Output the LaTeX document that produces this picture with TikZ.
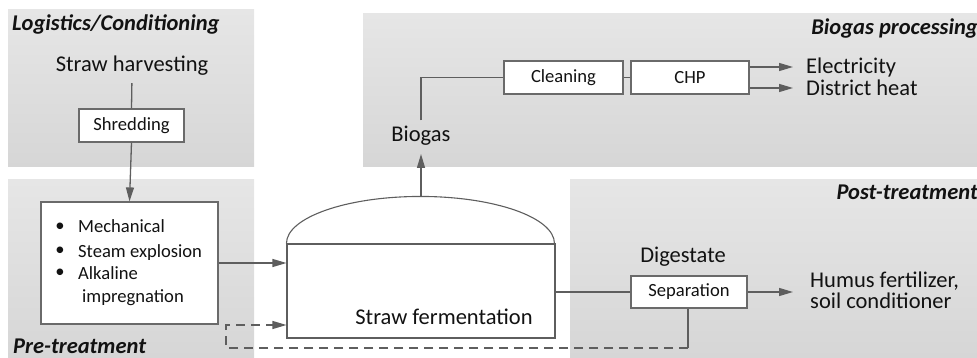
\documentclass[tikz,border=0pt]{standalone}
\usepackage{fontspec}
\setmainfont{Carlito}
\usetikzlibrary{arrows.meta}

\definecolor{lineC}{HTML}{5E5E5E}
\definecolor{boxC}{HTML}{6A6A6A}
\definecolor{txt}{HTML}{121212}
\definecolor{panelTop}{HTML}{E6E6E6}
\definecolor{panelBot}{HTML}{D6D6D6}

\tikzset{
  panel/.style={top color=panelTop, bottom color=panelBot, draw=none},
  box/.style={draw=boxC, fill=white, line width=1.2pt, inner sep=0pt,
              text=txt, font=\fontsize{18.6}{20}\selectfont},
  vessel/.style={draw=lineC, fill=white, line width=1.1pt, inner sep=0pt},
  flow/.style={draw=lineC, line width=1.3pt},
  arr/.style={flow, -{Triangle[length=14pt,width=8pt]}},
  dashflow/.style={arr, dash pattern=on 9pt off 6pt},
  mainT/.style={inner sep=0pt, text=txt, font=\fontsize{22.5}{24}\selectfont},
  smallT/.style={inner sep=0pt, text=txt, font=\fontsize{18.6}{20}\selectfont},
  head/.style={inner sep=0pt, text=txt, font=\fontsize{22.5}{24}\selectfont\bfseries\itshape},
}

\begin{document}
\begin{tikzpicture}[x=1pt,y=-1pt]
\useasboundingbox (0,0) rectangle (977,358);

% shaded process areas
\fill[panel] (8,10) rectangle (254,167);
\fill[panel] (8,180) rectangle (254,358);
\fill[panel] (363,14) rectangle (977,167);
\fill[panel] (570,180) rectangle (977,358);

% area titles
\node[head, anchor=base west] (tLog) at (12,31) {Logistics/Conditioning};
\node[head, anchor=base west] (tPre) at (13,353) {Pre-treatment};
\node[head, anchor=base east] (tBio) at (978,35) {Biogas processing};
\node[head, anchor=base east] (tPost) at (978,200) {Post-treatment};

% logistics
\node[mainT, anchor=base] (harv) at (132,72) {Straw harvesting};
\node[box, minimum width=105pt, minimum height=33pt] (shred) at (131.5,125.5) {Shredding};
\draw[flow, shorten <=7pt] (harv.south) -- (shred.north);

% pre-treatment
\node[box, minimum width=177pt, minimum height=122pt] (pre) at (129.5,263) {};
\draw[arr] (shred.south) -- (pre.north);
\node[smallT] (b1) at (60,227) {•};
\node[smallT] (b2) at (60,251) {•};
\node[smallT] (b3) at (60,273.5) {•};
\node[smallT, anchor=base west] (m1) at (78,233) {Mechanical};
\node[smallT, anchor=base west] (m2) at (78,257) {Steam explosion};
\node[smallT, anchor=base west] (m3) at (78,279.5) {Alkaline};
\node[smallT, anchor=base west] (m4) at (82,302) {impregnation};

% fermenter
\node[vessel, minimum width=268pt, minimum height=94pt] (ferm) at (421,291) {};
\draw[lineC, line width=1.1pt] (ferm.north west)
  arc[start angle=180, end angle=360, x radius=134, y radius=47];
\coordinate (dometop) at (421,197);
\node[mainT, anchor=base] (fermT) at (444,324) {Straw fermentation};
\draw[arr] (pre.east) -- (pre.east -| ferm.west);

% biogas line
\node[mainT, anchor=base] (biogas) at (421,142) {Biogas};
\coordinate (bioIn) at (421,154);
\draw[arr] (dometop) -- (bioIn);
\node[box, minimum width=119pt, minimum height=33pt] (clean) at (563.5,77.5) {Cleaning};
\node[box, minimum width=118pt, minimum height=33pt] (chp) at (690,77.5) {CHP};
\draw[flow, shorten <=6pt] (biogas.north) |- (clean.west);
\draw[flow] (clean.east) -- (chp.west);
\coordinate (elecIn) at (793,67);
\coordinate (heatIn) at (793,88);
\draw[arr] (elecIn -| chp.east) -- (elecIn);
\draw[arr] (heatIn -| chp.east) -- (heatIn);
\node[mainT, anchor=base west] (elec) at (806,74) {Electricity};
\node[mainT, anchor=base west] (heat) at (806,96) {District heat};

% digestate line
\node[mainT, anchor=base] (dig) at (683,262) {Digestate};
\node[box, minimum width=116pt, minimum height=32pt] (sep) at (689,292) {Separation};
\draw[flow] (ferm.east |- sep.west) -- (sep.west);
\coordinate (humIn) at (793,292);
\draw[arr] (sep.east) -- (humIn);
\node[mainT, anchor=base west] (hum1) at (810,287) {Humus fertilizer,};
\node[mainT, anchor=base west] (hum2) at (810,308) {soil conditioner};

% recirculation
\coordinate (recTurn) at (688,348);
\coordinate (recL) at (226,348);
\coordinate (recU) at (226,325);
\draw[flow] (sep.south -| recTurn) -- (recTurn);
\draw[dashflow] (recTurn) -- (recL) -- (recU) -- (recU -| ferm.west);
\end{tikzpicture}
\end{document}
